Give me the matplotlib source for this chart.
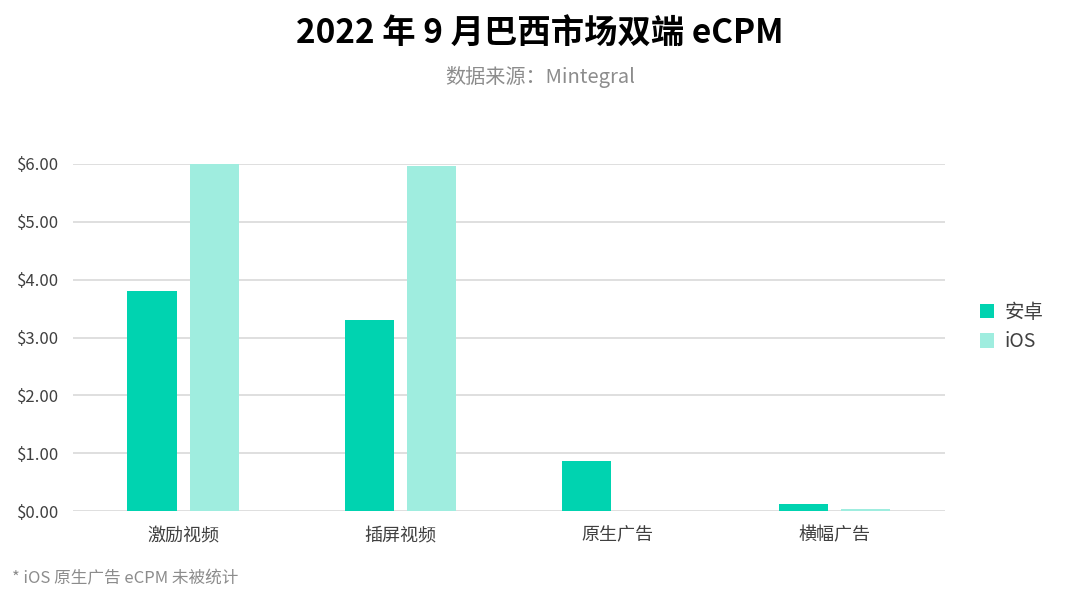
import numpy as np
import matplotlib
matplotlib.use('Agg')
import matplotlib.pyplot as plt

plt.rcParams['font.family'] = ['Noto Sans CJK SC', 'DejaVu Sans']

# data
categories = ['激励视频', '插屏视频', '原生广告', '横幅广告']
android = [3.81, 3.30, 0.87, 0.12]
ios = [6.00, 5.97, 0.0, 0.04]
series_names = ['安卓', 'iOS']
yticks = [0, 1, 2, 3, 4, 5, 6]

c_android = '#00D3B0'
c_ios = '#9FEDDF'

fig = plt.figure(figsize=(10.8, 6.09), dpi=100)
ax = fig.add_axes([73/1080, 1 - 511/609, (945-73)/1080, (511-164)/609])

x = np.arange(len(categories))
w = 0.226
ax.bar(x - 0.143, android, width=w, color=c_android, label=series_names[0], zorder=3)
ax.bar(x + 0.143, ios, width=w, color=c_ios, label=series_names[1], zorder=3)

ax.set_xlim(-0.507, 3.51)
ax.set_ylim(0, 6)
ax.set_yticks(yticks)
ax.set_yticklabels([f'${v:.2f}' for v in yticks], fontsize=12, color='#404040')
ax.set_xticks(x)
ax.set_xticklabels(categories, fontsize=13, color='#404040')
ax.tick_params(axis='both', length=0)
ax.tick_params(axis='y', pad=10)
ax.tick_params(axis='x', pad=11)
ax.grid(axis='y', color='#D9D9D9', linewidth=1.2, zorder=0)
ax.set_axisbelow(True)
for s in ax.spines.values():
    s.set_visible(False)

leg = fig.legend(loc='center left', bbox_to_anchor=(962/1080, 1 - 327/609), frameon=False,
                 fontsize=14, handlelength=0.75, handleheight=0.75, handletextpad=0.55,
                 labelspacing=0.45)
for t in leg.get_texts():
    t.set_color('#404040')

fig.text(0.5, 1 - 33/609, '2022 年 9 月巴西市场双端 eCPM', ha='center', va='center',
         fontsize=24, fontweight='bold', color='#000000')
fig.text(0.5, 1 - 77/609, '数据来源：Mintegral', ha='center', va='center',
         fontsize=14.5, color='#8C8C8C')
fig.text(12/1080, 1 - 579/609, '* iOS 原生广告 eCPM 未被统计', ha='left', va='center',
         fontsize=12, color='#8C8C8C', style='italic')

fig.savefig('out.png', dpi=100, facecolor='white')
